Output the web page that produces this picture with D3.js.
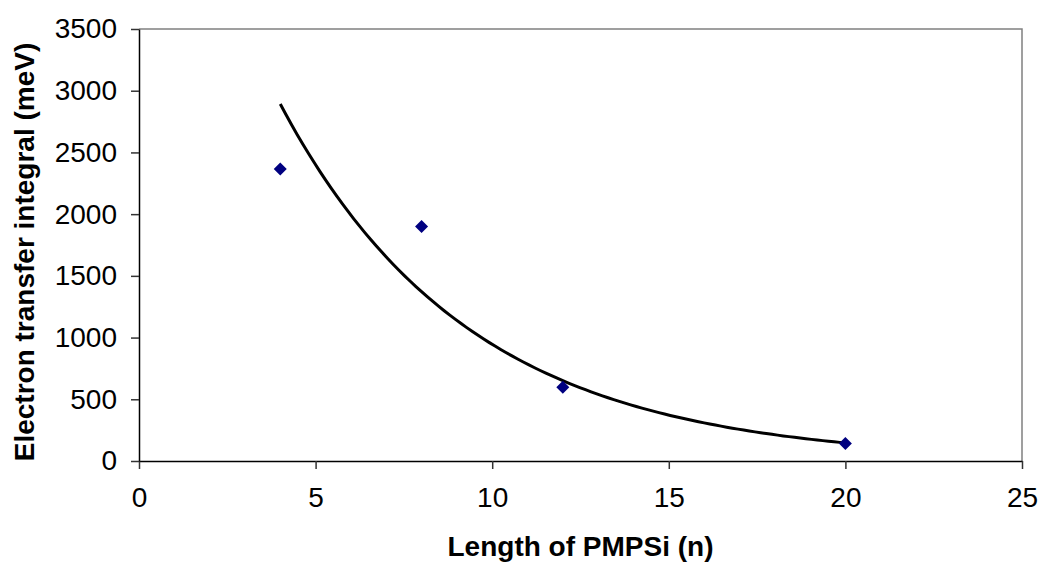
<!DOCTYPE html>
<html>
<head>
<meta charset="utf-8">
<script src="https://cdn.jsdelivr.net/npm/d3@7"></script>
<style>
  body { margin: 0; background: #fff; }
  text { font-family: "Liberation Sans", Arial, sans-serif; }
</style>
</head>
<body>
<svg id="chart"></svg>
<script>
// Data
const lengths = [4, 8, 12, 20];
const integrals = [2365, 1900, 597, 141];
const xTicks = [0, 5, 10, 15, 20, 25];
const yTicks = [0, 500, 1000, 1500, 2000, 2500, 3000, 3500];

// Constants
const width = 1042;
const height = 565;
const margin = { left: 139, right: 20, top: 29, bottom: 104 };
const visWidth = width - margin.left - margin.right;
const visHeight = height - margin.top - margin.bottom;

const svg = d3.select('#chart')
  .attr('width', width)
  .attr('height', height);

const chart = svg.append('g')
  .attr('transform', 'translate(' + margin.left + ',' + margin.top + ')');

const x = d3.scaleLinear().domain([0, 25]).range([0, visWidth]);
const y = d3.scaleLinear().domain([0, 3500]).range([visHeight, 0]);

// gray frame on top and right
chart.append('path')
  .attr('d', `M0,0H${visWidth}V${visHeight}`)
  .attr('fill', 'none')
  .attr('stroke', '#808080')
  .attr('stroke-width', 1.5);

// Axes
const xAxis = chart.append('g')
  .attr('transform', `translate(0,${visHeight})`)
  .call(d3.axisBottom(x).tickValues(xTicks).tickFormat(d3.format('d'))
    .tickSize(8).tickPadding(13).tickSizeOuter(0));

const yAxis = chart.append('g')
  .call(d3.axisLeft(y).tickValues(yTicks).tickFormat(d3.format('d'))
    .tickSize(8).tickPadding(14).tickSizeOuter(0));

[xAxis, yAxis].forEach(a => {
  a.select('.domain').attr('stroke', '#000').attr('stroke-width', 1.5);
  a.selectAll('.tick line').attr('stroke', '#333').attr('stroke-width', 1.5);
  a.selectAll('text')
    .attr('font-size', '28px')
    .attr('font-family', '"Liberation Sans", Arial, sans-serif')
    .attr('fill', '#000');
});
xAxis.selectAll('text').attr('dy', '0.9em');

// Exponential trendline (least squares on ln y), like the spreadsheet trendline
const lnY = integrals.map(Math.log);
const mx = d3.mean(lengths);
const my = d3.mean(lnY);
const b = d3.sum(lengths, (v, i) => (v - mx) * (lnY[i] - my)) / d3.sum(lengths, v => (v - mx) * (v - mx));
const a = my - b * mx;
const trend = d3.range(0, 101).map(i => {
  const xv = 4 + i * 16 / 100;
  return [xv, Math.exp(a + b * xv)];
});

chart.append('path')
  .datum(trend)
  .attr('fill', 'none')
  .attr('stroke', '#000')
  .attr('stroke-width', 3)
  .attr('d', d3.line().x(d => x(d[0])).y(d => y(d[1])));

// Markers
const r = 6.5;
chart.selectAll('.pt')
  .data(lengths)
  .enter()
  .append('path')
  .attr('class', 'pt')
  .attr('fill', '#000080')
  .attr('d', (d, i) => {
    const cx = x(d), cy = y(integrals[i]);
    return `M${cx},${cy - r}L${cx + r},${cy}L${cx},${cy + r}L${cx - r},${cy}Z`;
  });

// Axis titles
svg.append('text')
  .attr('x', margin.left + visWidth / 2)
  .attr('y', 556)
  .attr('text-anchor', 'middle')
  .attr('font-size', '28px')
  .attr('font-weight', 'bold')
  .text('Length of PMPSi (n)');

svg.append('text')
  .attr('transform', 'translate(34,252) rotate(-90)')
  .attr('text-anchor', 'middle')
  .attr('font-size', '28px')
  .attr('font-weight', 'bold')
  .text('Electron transfer integral (meV)');
</script>
</body>
</html>
